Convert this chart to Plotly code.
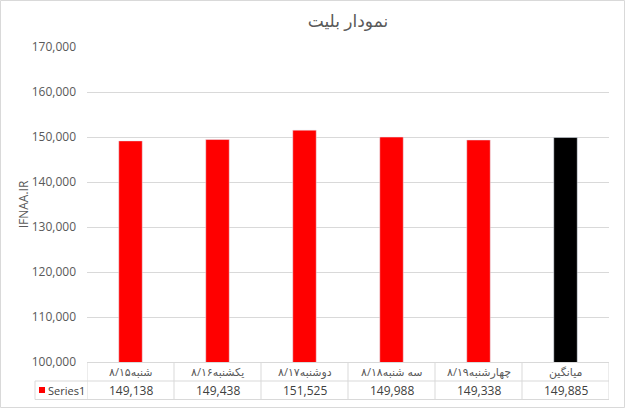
import plotly.graph_objects as go

categories = ["شنبه۸/۱۵", "یکشنبه۸/۱۶", "دوشنبه۸/۱۷", "سه شنبه۸/۱۸", "چهارشنبه۸/۱۹", "میانگین"]
values = [149138, 149438, 151525, 149988, 149338, 149885]
bar_colors = ["#ff0000", "#ff0000", "#ff0000", "#ff0000", "#ff0000", "#000000"]
series_name = "Series1"
title_text = "نمودار بلیت"
y_title = "IFNAA.IR"
y_ticks = list(range(100000, 170001, 10000))

W, H = 625, 408
L, R, T, B = 87, 16, 47, 46
pw, ph = W - L - R, H - T - B
FONT = "Open Sans, DejaVu Sans, sans-serif"
GRID = "#d9d9d9"
TXT = "#595959"

def px_x(x):
    return (x - L) / pw

def px_y(y):
    return (H - B - y) / ph

fig = go.Figure(go.Bar(
    x=list(range(len(categories))), y=values, marker_color=bar_colors,
    width=0.27, showlegend=False, hoverinfo="skip"))

n = len(categories)
shapes = []
annotations = []
row1_top, row1_bot, row2_bot = 362.5, 381, 399.5
shapes.append(dict(type="line", xref="paper", yref="paper", x0=0, x1=1, y0=px_y(row1_top), y1=px_y(row1_top), line=dict(color=GRID, width=1)))
shapes.append(dict(type="line", xref="paper", yref="paper", x0=px_x(35), x1=1, y0=px_y(row1_bot), y1=px_y(row1_bot), line=dict(color=GRID, width=1)))
shapes.append(dict(type="line", xref="paper", yref="paper", x0=px_x(35), x1=1, y0=px_y(row2_bot), y1=px_y(row2_bot), line=dict(color=GRID, width=1)))
for i in range(n + 1):
    shapes.append(dict(type="line", xref="x", yref="paper", x0=i - 0.5, x1=i - 0.5, y0=px_y(row1_top), y1=px_y(row2_bot), line=dict(color=GRID, width=1)))
shapes.append(dict(type="line", xref="paper", yref="paper", x0=px_x(35), x1=px_x(35), y0=px_y(row1_bot), y1=px_y(row2_bot), line=dict(color=GRID, width=1)))
shapes.append(dict(type="rect", xref="paper", yref="paper", x0=px_x(39), x1=px_x(45), y0=px_y(387), y1=px_y(393), fillcolor="#ff0000", line=dict(width=0)))
shapes.append(dict(type="rect", xref="paper", yref="paper", x0=px_x(0.5), x1=px_x(W - 0.5), y0=px_y(H - 0.5), y1=px_y(0.5), line=dict(color="#d9d9d9", width=1)))

for i, (c, v) in enumerate(zip(categories, values)):
    annotations.append(dict(x=i, y=px_y((row1_top + row1_bot) / 2), xref="x", yref="paper", text=c, showarrow=False,
                            font=dict(family=FONT, size=11, color=TXT), xanchor="center", yanchor="middle"))
    annotations.append(dict(x=i, y=px_y((row1_bot + row2_bot) / 2), xref="x", yref="paper", text=f"{v:,}", showarrow=False,
                            font=dict(family=FONT, size=12, color="#404040"), xanchor="center", yanchor="middle"))
annotations.append(dict(x=px_x(46), y=px_y((row1_bot + row2_bot) / 2), xref="paper", yref="paper", text=series_name, showarrow=False,
                        font=dict(family=FONT, size=11, color="#404040"), xanchor="left", yanchor="middle"))

fig.update_layout(
    width=W, height=H, margin=dict(l=L, r=R, t=T, b=B),
    paper_bgcolor="white", plot_bgcolor="white",
    title=dict(text=title_text, x=0.5, xref="paper", xanchor="center", y=1 - 21 / H, yanchor="middle",
               font=dict(family=FONT, size=17, color=TXT)),
    xaxis=dict(range=[-0.5, n - 0.5], showticklabels=False, showgrid=False, zeroline=False, fixedrange=True),
    yaxis=dict(range=[100000, 170000], tickvals=y_ticks, tickformat=",", showgrid=True, gridcolor=GRID,
               zeroline=False, showline=False, ticks="", ticklabelstandoff=10,
               tickfont=dict(family=FONT, size=12, color=TXT),
               title=dict(text=y_title, font=dict(family=FONT, size=12, color=TXT), standoff=0)),
    shapes=shapes, annotations=annotations, showlegend=False,
)
fig.write_html("out.html", config={"displayModeBar": False},
               post_script="document.body.style.margin='0';document.body.style.padding='0';")
